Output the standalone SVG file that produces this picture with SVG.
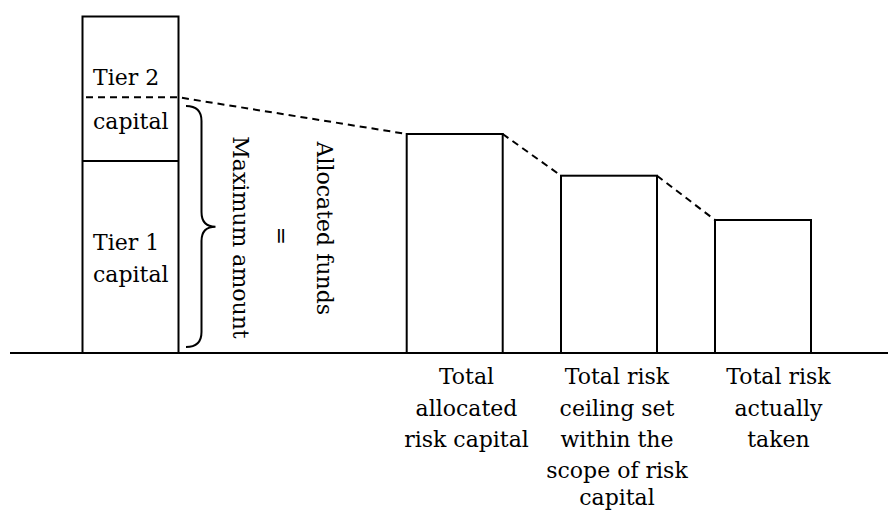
<svg xmlns="http://www.w3.org/2000/svg" width="888" height="511" viewBox="0 0 888 511">
<style>
  .box { fill: #ffffff; stroke: #000000; stroke-width: 2; }
  .dash { fill: none; stroke: #000000; stroke-width: 2; stroke-dasharray: 7 5; }
  .line { fill: none; stroke: #000000; stroke-width: 2; }
  .t { font-family: "DejaVu Serif", "Liberation Serif", "Noto Serif", serif; font-size: 22px; fill: #000000; }
  .mid { text-anchor: middle; }
</style>
<rect width="888" height="511" fill="#ffffff"/>

<g id="capital-column">
  <rect class="box" x="82.5" y="16.5" width="96" height="336.5"/>
  <line class="line" x1="82.5" y1="161" x2="178.5" y2="161"/>
  <text class="t" x="93" y="85">Tier 2</text>
  <text class="t" x="93" y="128.5">capital</text>
  <text class="t" x="93" y="250">Tier 1</text>
  <text class="t" x="93" y="281.7">capital</text>
</g>

<g id="bracket-labels">
  <path class="line" d="M186,106 Q201.5,106 201.5,121 L201.5,212 Q201.5,226.7 215.5,226.7 Q201.5,226.7 201.5,241 L201.5,332 Q201.5,347 186,347"/>
  <text class="t mid" transform="translate(233,237.5) rotate(90)">Maximum amount</text>
  <text class="t mid" transform="translate(274,236) rotate(90)">=</text>
  <text class="t mid" transform="translate(316.5,228.3) rotate(90)">Allocated funds</text>
</g>

<g id="bar-allocated">
  <rect class="box" x="406.7" y="134" width="96" height="219"/>
  <text class="t mid" x="466.5" y="384">Total</text>
  <text class="t mid" x="466.5" y="415.5">allocated</text>
  <text class="t mid" x="466.5" y="447">risk capital</text>
</g>

<g id="bar-ceiling">
  <rect class="box" x="561" y="175.7" width="96" height="177.3"/>
  <text class="t mid" x="617" y="384">Total risk</text>
  <text class="t mid" x="617" y="415.5">ceiling set</text>
  <text class="t mid" x="617" y="447">within the</text>
  <text class="t mid" x="617" y="478">scope of risk</text>
  <text class="t mid" x="617" y="505">capital</text>
</g>

<g id="bar-taken">
  <rect class="box" x="715" y="220" width="96" height="133"/>
  <text class="t mid" x="778.5" y="384">Total risk</text>
  <text class="t mid" x="778.5" y="415.5">actually</text>
  <text class="t mid" x="778.5" y="447">taken</text>
</g>

<g id="connectors">
  <line class="line" x1="10" y1="353" x2="888" y2="353"/>
  <polyline class="dash" points="86,97.3 178.5,97.3 406.7,134"/>
  <line class="dash" x1="502.7" y1="134" x2="561" y2="175.7"/>
  <line class="dash" x1="657" y1="175.7" x2="715" y2="220"/>
</g>
</svg>
